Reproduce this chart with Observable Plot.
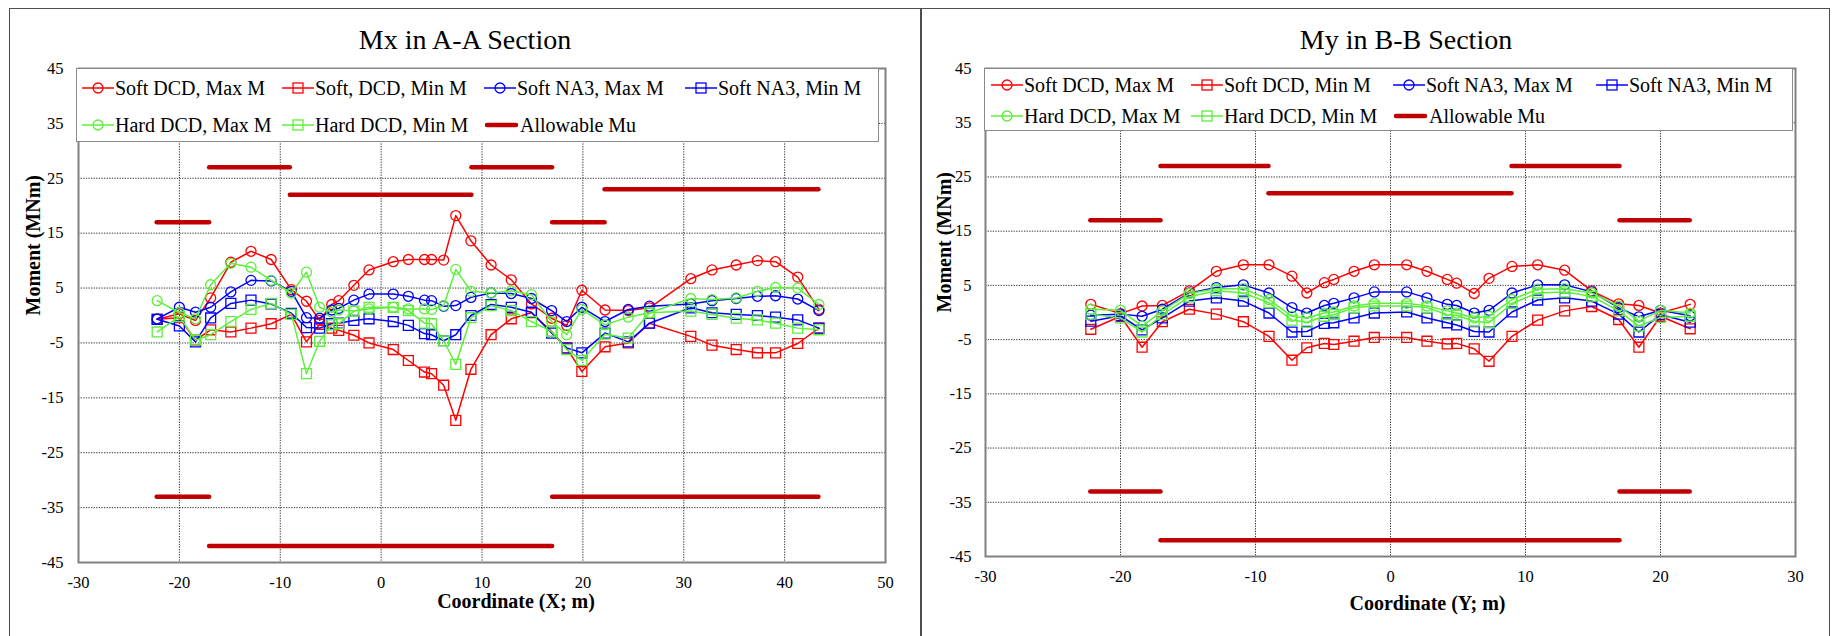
<!DOCTYPE html>
<html>
<head>
<meta charset="utf-8">
<script src="https://cdn.jsdelivr.net/npm/d3@7"></script>
<script src="https://cdn.jsdelivr.net/npm/@observablehq/plot@0.6"></script>
<style>
  html, body { margin: 0; padding: 0; background: #fff; }
  #root { position: relative; width: 1835px; height: 636px; overflow: hidden; background: #fff;
          font-family: "Liberation Serif", "Times New Roman", serif; color: #000; }
  .chart { position: absolute; top: 0; }
  .panel { position: absolute; top: 8px; height: 640px; border: 1.5px solid #4d4d4d; box-sizing: border-box; pointer-events: none; }
  .title { position: absolute; transform: translate(-50%, -50%); white-space: nowrap; line-height: 1; font-size: 28px; }
  .legend { position: absolute; background: #fff; border: 1.5px solid #8a8a8a; box-sizing: border-box; }
  .item { position: absolute; display: flex; align-items: center; white-space: nowrap; font-size: 20px; line-height: 1; transform: translateY(-50%); }
  .item svg { flex: none; margin-right: 1px; }
</style>
</head>
<body>
<div id="root"></div>
<script>
// ---------- Data: Mx in A-A Section ----------
const titleA = "Mx in A-A Section";
const xLabelA = "Coordinate (X; m)";
const xTicksA = [-30, -20, -10, 0, 10, 20, 30, 40, 50];
const xA = [-22.2,-20,-18.4,-16.9,-14.9,-12.9,-10.9,-8.9,-7.4,-6.1,-4.9,-4.2,-2.7,-1.2,1.2,2.7,4.3,5.0,6.2,7.4,8.9,10.9,12.9,14.9,16.9,18.4,19.9,22.2,24.5,26.6,30.7,32.8,35.2,37.3,39.1,41.3,43.4];
const softDcdMaxA = [-0.7,0.3,-0.9,3.2,9.7,11.7,10.2,4.7,2.6,-0.9,2.0,2.7,5.5,8.3,9.8,10.2,10.2,10.2,10.1,18.2,13.6,9.2,6.5,2.1,-0.5,-1.8,4.6,1.0,0.9,1.4,6.7,8.3,9.2,10.0,9.8,7.0,1.1];
const softDcdMinA = [-0.7,-0.4,-4.5,-2.6,-3.0,-2.3,-1.5,0.2,-4.8,-1.6,-2.3,-2.7,-3.6,-5.0,-6.2,-8.2,-10.3,-10.6,-12.7,-19.1,-9.8,-3.5,-0.6,0.5,-2.9,-6.0,-10.2,-5.7,-5.0,-1.4,-3.8,-5.4,-6.2,-6.8,-6.8,-5.1,-2.3];
const softNa3MaxA = [-0.6,1.5,0.6,1.5,4.3,6.4,6.3,4.4,-0.4,-0.5,1.0,1.3,2.8,3.9,3.9,3.5,2.8,2.7,1.7,1.8,3.3,4.1,4.0,3.1,0.9,-1.1,1.5,-1.1,1.1,1.7,2.1,2.7,3.1,3.5,3.6,3.0,0.9];
const softNa3MinA = [-0.7,-1.9,-4.8,-0.45,2.2,2.8,2.1,0.4,-2.2,-2.3,-1.5,-1.4,-0.9,-0.6,-1.1,-1.8,-3.3,-3.5,-4.6,-3.5,0.0,2.0,1.5,0.6,-3.2,-5.9,-6.8,-3.2,-4.8,-1.4,1.4,0.5,0.2,0.0,-0.3,-0.8,-2.3];
const hardDcdMaxA = [2.7,0.5,-0.6,5.6,9.5,8.8,6.4,4.1,7.9,1.5,0.6,1.0,0.8,1.2,1.5,1.2,1.2,1.1,1.8,8.4,4.4,4.1,4.5,3.8,-1.1,-3.5,1.1,-1.7,-0.3,0.5,3.1,2.9,3.2,4.4,5.1,5.0,2.0];
const hardDcdMinA = [-3.0,-0.2,-4.5,-3.5,-1.1,1.1,2.2,0.2,-10.6,-4.7,-1.7,-1.5,0.8,1.5,1.5,0.9,-1.4,-1.5,-4.6,-8.9,-0.4,1.8,0.9,-1.1,-2.9,-6.2,-8.2,-3.4,-4.1,0.5,0.8,0.2,-0.5,-0.8,-1.4,-2.3,-2.6];
const muX1A = [-22.2, -17, -9, 9, 17, 22.2, -22.2, -17, 17];
const muX2A = [-17, -9, 9, 17, 22.2, 43.4, -17, 17, 43.4];
const muYA  = [17, 27, 22, 27, 17, 23, -33, -42, -33];
const namesA = ["Soft DCD, Max M", "Soft, DCD, Min M", "Soft NA3, Max M", "Soft NA3, Min M", "Hard DCD, Max M", "Hard DCD, Min M", "Allowable Mu"];

// ---------- Data: My in B-B Section ----------
const titleB = "My in B-B Section";
const xLabelB = "Coordinate (Y; m)";
const xTicksB = [-30, -20, -10, 0, 10, 20, 30];
const xB = [-22.2,-20,-18.4,-16.9,-14.9,-12.9,-10.9,-9.0,-7.3,-6.2,-4.9,-4.2,-2.7,-1.2,1.2,2.7,4.2,4.9,6.2,7.3,9.0,10.9,12.9,14.9,16.9,18.4,20,22.2];
const softDcdMaxB = [1.5,-0.2,1.2,1.3,4.0,7.6,8.8,8.8,6.7,3.6,5.5,6.1,7.6,8.8,8.8,7.6,6.1,5.4,3.5,6.3,8.5,8.8,7.8,4.0,1.6,1.3,-0.1,1.5];
const softDcdMinB = [-3.1,-0.7,-6.4,-1.7,0.6,-0.3,-1.7,-4.4,-8.8,-6.5,-5.7,-5.9,-5.3,-4.6,-4.6,-5.3,-5.8,-5.7,-6.7,-9.0,-4.4,-1.4,0.3,1.1,-1.3,-6.4,-0.7,-3.0];
const softNa3MaxB = [-0.5,-0.3,-0.7,0.6,3.6,4.6,5.1,3.6,0.9,-0.1,1.3,1.7,2.7,3.8,3.8,2.7,1.5,1.3,-0.1,0.4,3.6,5.1,5.1,3.8,0.9,-0.8,0.4,-0.6];
const softNa3MinB = [-1.6,-0.6,-3.2,-1.0,2.1,2.7,2.1,-0.1,-3.6,-3.5,-2.0,-1.9,-1.0,-0.1,0.1,-1.0,-1.9,-2.3,-3.5,-3.6,0.1,2.3,2.7,2.1,-0.3,-3.6,-0.4,-1.8];
const hardDcdMaxB = [0.6,0.4,-2.5,0.3,3.5,4.4,4.4,2.4,-0.7,-1.0,-0.1,0.1,1.2,1.7,1.7,1.2,0.3,-0.1,-1.0,-0.7,2.4,4.3,4.4,3.6,1.2,-1.6,0.4,-0.1];
const hardDcdMinB = [-0.3,-1.0,-3.6,-0.4,2.9,4.0,3.6,1.8,-1.4,-1.8,-0.7,-0.4,0.9,1.2,1.2,0.9,-0.4,-0.5,-1.6,-1.9,1.7,3.6,3.8,3.0,0.3,-2.5,-0.9,-0.7];
const muX1B = [-22.2, -17, -9, 9, 17, -22.2, -17, 17];
const muX2B = [-17, -9, 9, 17, 22.2, -17, 17, 22.2];
const muYB  = [17, 27, 22, 27, 17, -33, -42, -33];
const namesB = ["Soft DCD, Max M", "Soft DCD, Min M", "Soft NA3, Max M", "Soft NA3, Min M", "Hard DCD, Max M", "Hard DCD, Min M", "Allowable Mu"];

// ---------- Shared ----------
const yLabel = "Moment (MNm)";
const yTicks = [-45, -35, -25, -15, -5, 5, 15, 25, 35, 45];
const seriesColors = ["#ff0000", "#ff0000", "#0000ff", "#0000ff", "#5cf03a", "#5cf03a"];
const seriesSymbols = ["circle", "square", "circle", "square", "circle", "square"];
const muColor = "#c00000";

const FONT = '"Liberation Serif", "Times New Roman", serif';
const root = document.getElementById("root");

function makeChart(cfg) {
  const marks = [
    Plot.gridX({ticks: cfg.xTicks, stroke: "#333", strokeOpacity: 1, strokeWidth: 1, strokeDasharray: "1.3,1.3"}),
    Plot.gridY({ticks: yTicks, stroke: "#333", strokeOpacity: 1, strokeWidth: 1, strokeDasharray: "1.3,1.3"}),
    Plot.axisX({ticks: cfg.xTicks, tickSize: 0, tickPadding: 14, fontSize: 16.5, tickFormat: d => String(d), label: null}),
    Plot.axisY({ticks: yTicks, tickSize: 0, tickPadding: cfg.yPad, fontSize: 16.5, tickFormat: d => String(d), label: null}),
    Plot.text([cfg.xLabel], {frameAnchor: "bottom", text: d => d, dy: cfg.xLabDy, dx: cfg.xLabDx, fontWeight: "bold", fontSize: 20}),
    Plot.text([yLabel], {frameAnchor: "left", text: d => d, rotate: -90, dx: cfg.yLabDx, fontWeight: "bold", fontSize: 20})
  ];
  cfg.series.forEach((vals, s) => {
    const rows = cfg.xs.map((x, i) => ({x, y: vals[i]}));
    marks.push(Plot.line(rows, {x: "x", y: "y", stroke: seriesColors[s], strokeWidth: 1.5}));
    marks.push(Plot.dot(rows, {x: "x", y: "y", symbol: seriesSymbols[s], r: seriesSymbols[s] === "square" ? 5.6 : 5,
      stroke: seriesColors[s], fill: "none", strokeWidth: 1.3}));
  });
  const mu = cfg.muY.map((y, i) => ({y, x1: cfg.muX1[i], x2: cfg.muX2[i]}));
  marks.push(Plot.ruleY(mu, {y: "y", x1: "x1", x2: "x2", stroke: muColor, strokeWidth: 4.5, strokeLinecap: "round"}));
  marks.push(Plot.frame({stroke: "#808080", strokeWidth: 2}));

  const svg = Plot.plot({
    width: cfg.width, height: 636,
    marginLeft: cfg.ml, marginRight: cfg.mr, marginTop: cfg.mt, marginBottom: cfg.mb,
    style: {fontFamily: FONT, fontSize: "16px", color: "#000", background: "transparent", overflow: "visible"},
    x: {domain: cfg.xDomain},
    y: {domain: [-45, 45]},
    marks
  });
  svg.classList.add("chart");
  svg.style.left = cfg.left + "px";
  root.appendChild(svg);

  // legend box
  const box = document.createElement("div");
  box.className = "legend";
  Object.assign(box.style, {left: cfg.leg.x + "px", top: cfg.leg.y + "px", width: cfg.leg.w + "px", height: cfg.leg.h + "px"});
  root.appendChild(box);
  cfg.names.forEach((name, k) => {
    const row = k < 4 ? 0 : 1, col = k < 4 ? k : k - 4;
    const it = document.createElement("div");
    it.className = "item";
    it.style.left = cfg.leg.cols[col] + "px";
    it.style.top = cfg.leg.rows[row] + "px";
    let icon;
    if (k < 6) {
      const c = seriesColors[k];
      const m = seriesSymbols[k] === "circle"
        ? `<circle cx="16" cy="8" r="5" fill="none" stroke="${c}" stroke-width="1.3"/>`
        : `<rect x="11" y="3" width="10" height="10" fill="none" stroke="${c}" stroke-width="1.3"/>`;
      icon = `<svg width="32" height="16"><line x1="0" x2="32" y1="8" y2="8" stroke="${c}" stroke-width="1.5"/>${m}</svg>`;
    } else {
      icon = `<svg width="35" height="16"><line x1="3" x2="32" y1="8" y2="8" stroke="${muColor}" stroke-width="4.5" stroke-linecap="round"/></svg>`;
    }
    it.innerHTML = icon + `<span>${name}</span>`;
    root.appendChild(it);
  });

  const t = document.createElement("div");
  t.className = "title";
  t.textContent = cfg.title;
  t.style.left = cfg.titleX + "px";
  t.style.top = "40px";
  root.appendChild(t);
}

makeChart({
  left: 0, width: 921, ml: 78, mr: 36, mt: 68, mb: 74, yPad: 15,
  xDomain: [-30, 50], xTicks: xTicksA, xs: xA, xLabel: xLabelA, xLabDy: 45, xLabDx: 34, yLabDx: -45,
  series: [softDcdMaxA, softDcdMinA, softNa3MaxA, softNa3MinA, hardDcdMaxA, hardDcdMinA],
  muX1: muX1A, muX2: muX2A, muY: muYA, names: namesA, title: titleA, titleX: 465,
  leg: {x: 76, y: 68, w: 803, h: 74, cols: [82, 282, 484, 685], rows: [88, 124.5]}
});
makeChart({
  left: 921, width: 914, ml: 64, mr: 40, mt: 68, mb: 80, yPad: 14,
  xDomain: [-30, 30], xTicks: xTicksB, xs: xB, xLabel: xLabelB, xLabDy: 53, xLabDx: 37, yLabDx: -41,
  series: [softDcdMaxB, softDcdMinB, softNa3MaxB, softNa3MinB, hardDcdMaxB, hardDcdMinB],
  muX1: muX1B, muX2: muX2B, muY: muYB, names: namesB, title: titleB, titleX: 1406,
  leg: {x: 984, y: 68, w: 809, h: 63, cols: [991, 1191, 1393, 1596], rows: [85, 116]}
});

// panel borders
[[9, 912], [921, 909]].forEach(([l, w]) => {
  const p = document.createElement("div");
  p.className = "panel";
  p.style.left = l + "px";
  p.style.width = w + "px";
  root.appendChild(p);
});
</script>
</body>
</html>
